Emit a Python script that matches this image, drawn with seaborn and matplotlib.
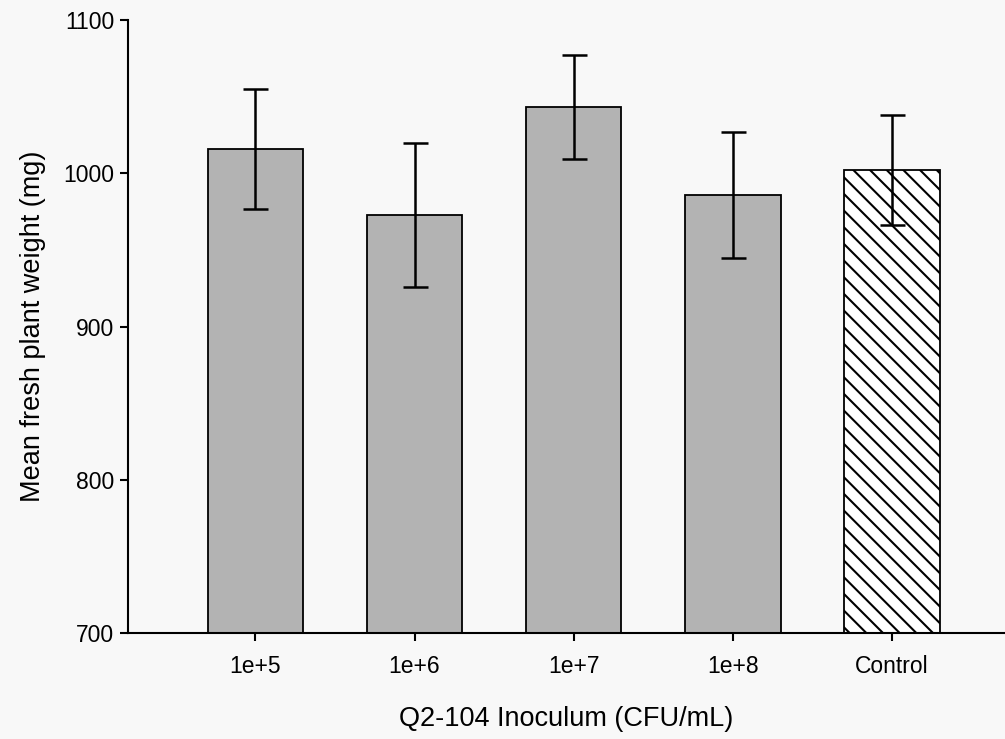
import matplotlib
matplotlib.use("Agg")
import matplotlib.pyplot as plt
import seaborn as sns
import pandas as pd

categories = ["1e+5", "1e+6", "1e+7", "1e+8", "Control"]
means = [1016, 973, 1043, 986, 1002]
errors = [39, 47, 34, 41, 36]

sns.set_theme(style="ticks")
plt.rcParams['font.family'] = ['Liberation Sans', 'DejaVu Sans']
plt.rcParams['hatch.linewidth'] = 1.5

df = pd.DataFrame({"cat": categories, "mean": means})

fig = plt.figure(figsize=(10.05, 7.39), dpi=100, facecolor="#f8f8f8")
ax = fig.add_axes([0.1274, 0.1434, 0.8726, 0.8295])
ax.set_facecolor("#f8f8f8")

sns.barplot(data=df, x="cat", y="mean", ax=ax, color="#b3b3b3", width=0.6,
            edgecolor="black", linewidth=1.3, saturation=1)
bars = ax.patches
bars[-1].set_facecolor("white")
bars[-1].set_hatch("\\\\")

ax.errorbar(x=range(len(categories)), y=means, yerr=errors, fmt="none",
            ecolor="black", elinewidth=1.8, capsize=9, capthick=1.8)

ax.set_ylim(700, 1100)
ax.set_xlim(-0.8, 4.71)
ax.set_yticks([700, 800, 900, 1000, 1100])
ax.tick_params(axis="both", labelsize=16.5, length=6, width=1.5, colors="black",
               labelcolor="black", pad=4)
ax.tick_params(axis="x", pad=10)
ax.set_ylabel("Mean fresh plant weight (mg)", fontsize=19.5, labelpad=12, color="black")
ax.set_xlabel("Q2-104 Inoculum (CFU/mL)", fontsize=19.5, labelpad=20, color="black")
for s in ["top", "right"]:
    ax.spines[s].set_visible(False)
for s in ["left", "bottom"]:
    ax.spines[s].set_linewidth(1.5)
    ax.spines[s].set_color("black")

fig.savefig("out.png", dpi=100, facecolor=fig.get_facecolor())
